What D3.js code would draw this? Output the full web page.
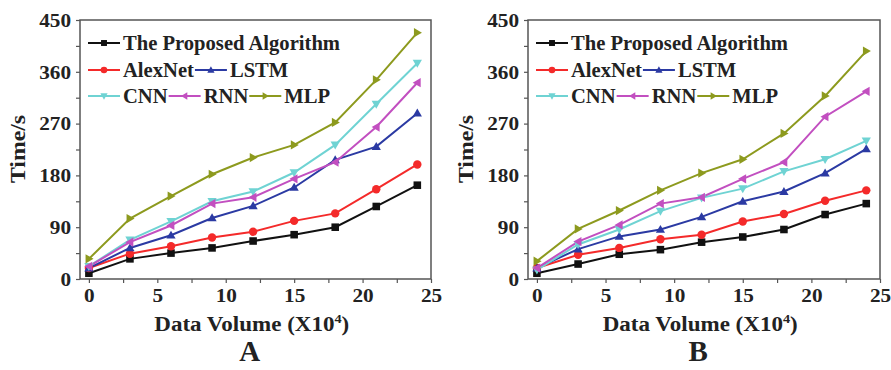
<!DOCTYPE html>
<html>
<head>
<meta charset="utf-8">
<script src="https://cdn.jsdelivr.net/npm/d3@7"></script>
<style>
  body { margin: 0; background: #fff; }
  text { font-family: "Liberation Serif", "Times New Roman", serif; font-weight: bold; fill: #222; }
</style>
</head>
<body>
<svg width="891" height="370"></svg>
<script>
const xValues = [0, 3, 6, 9, 12, 15, 18, 21, 24];
const seriesNames = ['The Proposed Algorithm', 'AlexNet', 'LSTM', 'CNN', 'RNN', 'MLP'];
const xTicks = [0, 5, 10, 15, 20, 25];
const yTicks = [0, 90, 180, 270, 360, 450];
const panelLabels = ['A', 'B'];

// panel A
const proposedA = [10, 35, 45, 54, 66, 77, 90, 126, 163];
const alexnetA  = [19, 44, 57, 72, 82, 101, 114, 156, 199];
const lstmA     = [19, 54, 76, 106, 127, 159, 207, 230, 288];
const cnnA      = [22, 68, 100, 135, 152, 185, 233, 304, 375];
const rnnA      = [22, 64, 93, 131, 142, 174, 203, 264, 341];
const mlpA      = [35, 105, 144, 182, 211, 233, 272, 346, 428];

// panel B
const proposedB = [10, 26, 43, 51, 64, 73, 86, 112, 131];
const alexnetB  = [19, 42, 54, 69, 77, 100, 113, 136, 154];
const lstmB     = [19, 52, 74, 86, 108, 135, 152, 184, 226];
const cnnB      = [16, 60, 86, 118, 141, 157, 187, 208, 240];
const rnnB      = [19, 65, 94, 131, 142, 174, 203, 282, 326];
const mlpB      = [31, 87, 119, 154, 184, 208, 253, 318, 396];

const panelData = [
  [proposedA, alexnetA, lstmA, cnnA, rnnA, mlpA],
  [proposedB, alexnetB, lstmB, cnnB, rnnB, mlpB]
];

const colors = ['#111111', '#f42a2a', '#2b3aa3', '#6fd3d3', '#c24fc0', '#8d9a1e'];
const shapes = ['square', 'circle', 'up', 'down', 'left', 'right'];

const svg = d3.select('svg');

// stretch a text horizontally around its anchor point (the source image is a bit wide)
function stretch(sel, s) {
  sel.each(function () {
    const t = d3.select(this);
    const x = +t.attr('x') || 0, y = +t.attr('y') || 0;
    const prev = t.attr('transform') || '';
    t.attr('transform', `${prev} translate(${x},${y}) scale(${s},1) translate(${-x},${-y})`);
  });
}

function marker(g, shape, x, y, color, s) {
  s = s || 4.2;
  if (shape === 'square') {
    g.append('rect').attr('x', x - s * 0.9).attr('y', y - s * 0.9).attr('width', s * 1.8).attr('height', s * 1.8).attr('fill', color);
  } else if (shape === 'circle') {
    g.append('circle').attr('cx', x).attr('cy', y).attr('r', s).attr('fill', color);
  } else {
    const pts = {
      up:    [[0, -s * 1.1], [s * 1.1, s * 0.8], [-s * 1.1, s * 0.8]],
      down:  [[0, s * 1.1], [s * 1.1, -s * 0.8], [-s * 1.1, -s * 0.8]],
      left:  [[-s * 1.1, 0], [s * 0.8, -s * 1.1], [s * 0.8, s * 1.1]],
      right: [[s * 1.1, 0], [-s * 0.8, -s * 1.1], [-s * 0.8, s * 1.1]]
    }[shape];
    g.append('path')
      .attr('d', 'M' + pts.map(p => [x + p[0], y + p[1]].join(',')).join('L') + 'Z')
      .attr('fill', color);
  }
}

function drawPanel(left, right, data, label) {
  const top = 20, bottom = 279;
  const x = d3.scaleLinear().domain([-0.65, 25]).range([left, right]);
  const y = d3.scaleLinear().domain([0, 450]).range([bottom, top]);
  const g = svg.append('g');

  const xAxis = d3.axisBottom(x).tickValues(d3.range(0, 25.1, 2.5)).tickSize(4)
    .tickFormat(d => xTicks.includes(d) ? d : '');
  const yAxis = d3.axisLeft(y).tickValues(d3.range(0, 451, 45)).tickSize(4)
    .tickFormat(d => yTicks.includes(d) ? d : '');

  const gx = g.append('g').attr('transform', `translate(0,${bottom})`).call(xAxis);
  const gy = g.append('g').attr('transform', `translate(${left},0)`).call(yAxis);
  [gx, gy].forEach(a => {
    a.select('.domain').remove();
    a.selectAll('line').attr('stroke', '#555').attr('stroke-width', 1.2);
    a.selectAll('text').attr('font-size', 18).attr('fill', '#222')
      .style('font-family', '"Liberation Serif", serif').style('font-weight', 'bold');
  });
  gx.selectAll('text').attr('y', 8).attr('dy', '0.85em');
  gy.selectAll('text').attr('x', -9).attr('dy', '0.35em');
  stretch(gx.selectAll('text'), 1.18);
  stretch(gy.selectAll('text'), 1.18);

  g.append('rect').attr('x', left).attr('y', top).attr('width', right - left).attr('height', bottom - top)
    .attr('fill', 'none').attr('stroke', '#555').attr('stroke-width', 1.5);

  const line = d3.line().x((d, i) => x(xValues[i])).y(d => y(d));
  data.forEach((vals, k) => {
    g.append('path').datum(vals).attr('d', line).attr('fill', 'none')
      .attr('stroke', colors[k]).attr('stroke-width', 2);
  });
  data.forEach((vals, k) => {
    vals.forEach((v, i) => marker(g, shapes[k], x(xValues[i]), y(v), colors[k]));
  });

  // legend
  const rows = [[0], [1, 2], [3, 4, 5]];
  const rowY = [43, 70, 96];
  rows.forEach((row, r) => {
    let x0 = left + 8;
    row.forEach(k => {
      g.append('line').attr('x1', x0).attr('x2', x0 + 32).attr('y1', rowY[r]).attr('y2', rowY[r])
        .attr('stroke', colors[k]).attr('stroke-width', 2);
      marker(g, shapes[k], x0 + 16, rowY[r], colors[k], 3.3);
      const t = g.append('text').attr('x', x0 + 35).attr('y', rowY[r]).attr('dy', '0.35em')
        .attr('font-size', 20).text(seriesNames[k]);
      const w = t.node().getComputedTextLength() * 1.03;
      stretch(t, 1.03);
      x0 = x0 + 35 + w + 1;
    });
  });

  // axis titles
  const xt = g.append('text').attr('x', x(11.9)).attr('y', 331).attr('text-anchor', 'middle')
    .attr('font-size', 21);
  xt.append('tspan').text('Data Volume (X10');
  xt.append('tspan').attr('font-size', 13).attr('dy', -8).text('4');
  xt.append('tspan').attr('dy', 8).text(')');
  stretch(xt, 195 / xt.node().getBBox().width);

  const yt = g.append('text').attr('transform', `translate(${left - 55},149) rotate(-90)`)
    .attr('text-anchor', 'middle').attr('font-size', 22).text('Time/s');
  stretch(yt, 1.08);

  g.append('text').attr('x', x(11.75)).attr('y', 361).attr('text-anchor', 'middle')
    .attr('font-size', 29).text(label);
}

drawPanel(80, 431, panelData[0], panelLabels[0]);
drawPanel(528, 880, panelData[1], panelLabels[1]);
</script>
</body>
</html>
